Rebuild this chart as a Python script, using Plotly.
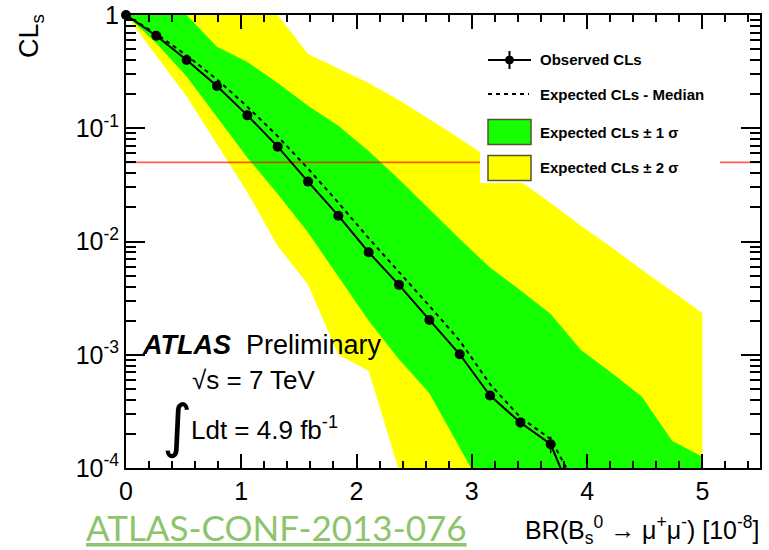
import plotly.graph_objects as go

# ---------------- data ----------------
br_grid = [0.0, 0.263, 0.526, 0.789, 1.053, 1.316, 1.579, 1.842, 2.105, 2.368,
           2.632, 2.895, 3.158, 3.421, 3.684, 3.947, 4.211, 4.474, 4.737, 5.0]

br_obs = br_grid[:16]
cls_observed = [1.0, 0.656, 0.40, 0.236, 0.130, 0.0688, 0.0338, 0.0169, 0.00804,
                0.00414, 0.00203, 0.00101, 0.000436, 0.000252, 0.000162, 0.000037]
cls_observed_err = [0, 0, 0, 0, 0, 0, 0, 0, 0, 0, 0, 0, 0.000015, 0.000026, 0.000027, 0]

cls_expected = [1.0, 0.68, 0.44, 0.27, 0.155, 0.085, 0.044, 0.022, 0.0107,
                0.0054, 0.0027, 0.00133, 0.00055, 0.00028, 0.00018, 0.000058]

band1_up = [1.0, 1.0, 1.0, 0.525, 0.385, 0.251, 0.158, 0.105, 0.0631, 0.0355,
            0.0191, 0.0105, 0.00589, 0.00372, 0.00229, 0.00110, 0.000692,
            0.000427, 0.000174, 0.000126]
band1_dn = [1.0, 0.562, 0.286, 0.126, 0.0550, 0.0263, 0.0120, 0.0049, 0.0020,
            0.000912, 0.000457, 0.000151, 5.0e-5, 1.6e-5, 5e-6, 1.6e-6, 5e-7,
            1.6e-7, 5e-8, 1.6e-8]
band2_up = [1.0, 1.0, 1.0, 1.0, 1.0, 1.0, 0.452, 0.339, 0.251, 0.178, 0.120,
            0.0813, 0.0537, 0.0339, 0.0219, 0.0138, 0.00891, 0.00562, 0.00363,
            0.00234]
band2_dn = [1.0, 0.437, 0.191, 0.0724, 0.0272, 0.00912, 0.00417, 0.0010,
            0.000724, 9.5e-5, 1e-5, 3e-6, 1e-6, 3e-7, 1e-7, 3e-8, 1e-8, 3e-9,
            1e-9, 3e-10]

cl_threshold = 0.05

y_tickvals = [1e-4, 1e-3, 1e-2, 1e-1, 1]
y_ticktext = ["10<sup>-4</sup>", "10<sup>-3</sup>", "10<sup>-2</sup>",
              "10<sup>-1</sup>", "1"]
x_tickvals = [0, 1, 2, 3, 4, 5]
x_ticktext = ["0", "1", "2", "3", "4", "5"]

legend_labels = ["Observed CLs", "Expected CLs - Median",
                 "Expected CLs \u00b1 1 \u03c3", "Expected CLs \u00b1 2 \u03c3"]

# ---------------- layout geometry (pixels) ----------------
W, H = 769, 550
L, R, T, B = 126, 760, 15, 468   # plot area


def px(x):
    return (x - L) / (R - L)


def py(y):
    return (B - y) / (B - T)


GREEN = "#16ff00"
YELLOW = "#ffff00"
FONT = "Liberation Sans"

fig = go.Figure()

fig.add_trace(go.Scatter(
    x=br_grid + br_grid[::-1], y=band2_up + band2_dn[::-1],
    fill="toself", fillcolor=YELLOW, line=dict(width=0), mode="lines",
    hoverinfo="skip", showlegend=False))
fig.add_trace(go.Scatter(
    x=br_grid + br_grid[::-1], y=band1_up + band1_dn[::-1],
    fill="toself", fillcolor=GREEN, line=dict(width=0), mode="lines",
    hoverinfo="skip", showlegend=False))
fig.add_trace(go.Scatter(
    x=[0, 5.5], y=[cl_threshold, cl_threshold], mode="lines",
    line=dict(color="rgba(255,0,0,0.65)", width=1.6), showlegend=False))
fig.add_trace(go.Scatter(
    x=br_obs, y=cls_expected, mode="lines",
    line=dict(color="black", width=2, dash="4px,4px"), showlegend=False))
fig.add_trace(go.Scatter(
    x=br_obs, y=cls_observed, mode="lines+markers",
    line=dict(color="black", width=2),
    marker=dict(color="black", size=10),
    error_y=dict(type="data", array=cls_observed_err, color="black",
                 thickness=1.5, width=0),
    cliponaxis=False, showlegend=False))

shapes = []
annotations = []

# legend box
shapes.append(dict(type="rect", xref="paper", yref="paper", layer="above",
                   x0=px(480), x1=px(720), y0=py(183), y1=py(36),
                   fillcolor="white", line=dict(width=0)))
row_y = [60, 94, 132, 168]
sx0, sx1 = 488, 531
# observed symbol
shapes.append(dict(type="line", xref="paper", yref="paper", layer="above",
                   x0=px(sx0), x1=px(sx1), y0=py(row_y[0]), y1=py(row_y[0]),
                   line=dict(color="black", width=2)))
shapes.append(dict(type="line", xref="paper", yref="paper", layer="above",
                   x0=px(509.5), x1=px(509.5), y0=py(row_y[0] - 9), y1=py(row_y[0] + 9),
                   line=dict(color="black", width=2)))
shapes.append(dict(type="circle", xref="paper", yref="paper", layer="above",
                   x0=px(505.5), x1=px(513.5), y0=py(row_y[0] - 4), y1=py(row_y[0] + 4),
                   fillcolor="black", line=dict(color="black", width=1)))
# dashed symbol
shapes.append(dict(type="line", xref="paper", yref="paper", layer="above",
                   x0=px(sx0), x1=px(sx1 - 2), y0=py(row_y[1]), y1=py(row_y[1]),
                   line=dict(color="black", width=2, dash="4px,4px")))
# band boxes
for ry, col in [(row_y[2], GREEN), (row_y[3], YELLOW)]:
    shapes.append(dict(type="rect", xref="paper", yref="paper", layer="above",
                       x0=px(sx0), x1=px(sx1), y0=py(ry + 12.5), y1=py(ry - 12.5),
                       fillcolor=col, line=dict(color="#555533", width=1.5)))
for ry, lab in zip(row_y, legend_labels):
    annotations.append(dict(xref="paper", yref="paper", x=px(538), y=py(ry),
                            xanchor="left", yanchor="middle", showarrow=False,
                            text="<b>" + lab + "</b>",
                            font=dict(family=FONT, size=15, color="black")))

# ATLAS label
annotations.append(dict(xref="paper", yref="paper", x=px(140), y=py(345),
                        xanchor="left", yanchor="middle", showarrow=False,
                        text="<b><i>ATLAS</i></b>  Preliminary",
                        font=dict(family=FONT, size=27, color="black")))
annotations.append(dict(xref="paper", yref="paper", x=px(190), y=py(380),
                        xanchor="left", yanchor="middle", showarrow=False,
                        text="\u221as = 7 TeV",
                        font=dict(family=FONT, size=26, color="black")))
annotations.append(dict(xref="paper", yref="paper", x=px(160), y=py(426),
                        xanchor="left", yanchor="middle", showarrow=False,
                        text="\u222b",
                        font=dict(family="DejaVu Sans", size=58, color="black")))
annotations.append(dict(xref="paper", yref="paper", x=px(189), y=py(428),
                        xanchor="left", yanchor="middle", showarrow=False,
                        text="Ldt = 4.9 fb<sup>-1</sup>",
                        font=dict(family=FONT, size=26, color="black")))

# axis titles
annotations.append(dict(xref="paper", yref="paper", x=px(31), y=py(36),
                        xanchor="center", yanchor="middle", showarrow=False,
                        textangle=-90, text="CL<sub>s</sub>",
                        font=dict(family=FONT, size=27, color="black")))
annotations.append(dict(xref="paper", yref="paper", x=px(762), y=py(530),
                        xanchor="right", yanchor="middle", showarrow=False,
                        text="BR(B<sub>s</sub><sup>0</sup> \u2192 \u03bc<sup>+</sup>\u03bc<sup>-</sup>) [10<sup>-8</sup>]",
                        font=dict(family=FONT, size=25, color="black")))
annotations.append(dict(xref="paper", yref="paper", x=px(84), y=py(527),
                        xanchor="left", yanchor="middle", showarrow=False,
                        text="<u>ATLAS-CONF-2013-076</u>",
                        font=dict(family="Lato", size=35, color="#8dc46c")))

fig.update_layout(
    width=W, height=H,
    margin=dict(l=L, r=W - R, t=T, b=H - B, pad=0, autoexpand=False),
    paper_bgcolor="white", plot_bgcolor="white",
    shapes=shapes, annotations=annotations,
    xaxis=dict(range=[0, 5.5], tickvals=x_tickvals, ticktext=x_ticktext,
               automargin=False, ticklabeloverflow="allow",
               ticks="inside", ticklen=14, tickwidth=1.5, tickcolor="black",
               showline=True, linecolor="black", linewidth=2, mirror="allticks",
               showgrid=False, zeroline=False,
               minor=dict(dtick=0.2, ticks="inside", ticklen=7, tickwidth=1.5,
                          tickcolor="black", showgrid=False),
               tickfont=dict(family=FONT, size=25, color="black")),
    yaxis=dict(type="log", range=[-4, 0], tickvals=y_tickvals, ticktext=y_ticktext,
               automargin=False, ticklabeloverflow="allow",
               ticks="inside", ticklen=19, tickwidth=1.5, tickcolor="black",
               showline=True, linecolor="black", linewidth=2, mirror="allticks",
               showgrid=False, zeroline=False,
               minor=dict(dtick="D1", ticks="inside", ticklen=10, tickwidth=1.5,
                          tickcolor="black", showgrid=False),
               tickfont=dict(family=FONT, size=25, color="black")),
)

fig.write_html("out.html",
               config={"displayModeBar": False},
               post_script="document.body.style.margin='0';")
